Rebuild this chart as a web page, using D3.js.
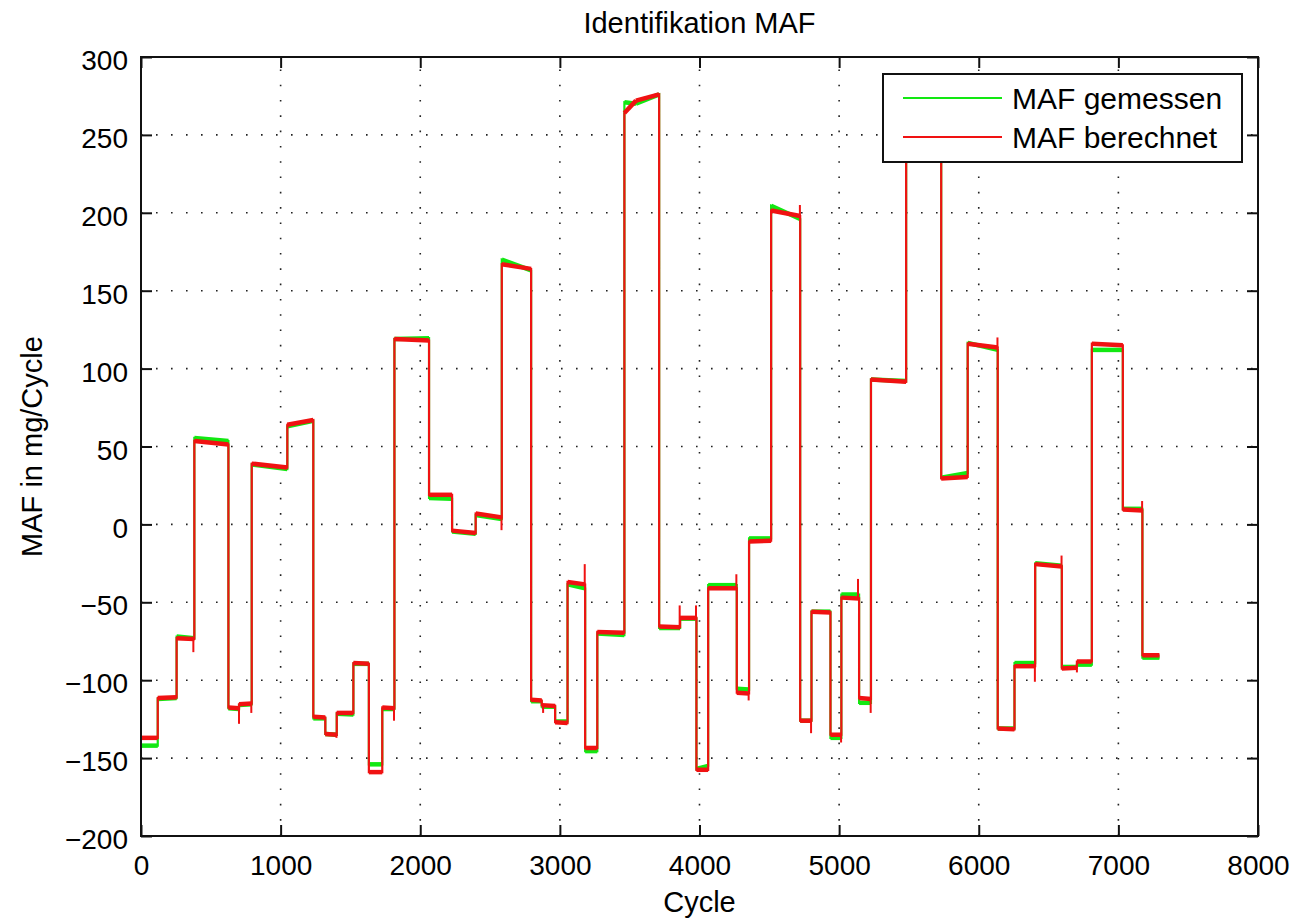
<!DOCTYPE html>
<html><head><meta charset="utf-8">
<script src="https://cdn.jsdelivr.net/npm/d3@7"></script>
<style>
body{margin:0;background:#fff}
svg{display:block}
text{font-family:"Liberation Sans",Arial,Helvetica,sans-serif;fill:#000}
</style>
</head><body>
<svg id="chart" width="1292" height="922"></svg>
<script>
const chartTitle = "Identifikation MAF";
const xLabel = "Cycle";
const yLabel = "MAF in mg/Cycle";
const seriesNames = ["MAF gemessen", "MAF berechnet"];
const seriesColors = ["#12e812", "#f01212"];
const xTicks = [0, 1000, 2000, 3000, 4000, 5000, 6000, 7000, 8000];
const yTicks = [-200, -150, -100, -50, 0, 50, 100, 150, 200, 250, 300];

// step segments (cycle where each plateau starts), last cycle of the record
const segStart = [0, 120, 255, 382, 626, 702, 793, 1048, 1234, 1320, 1402, 1521, 1632, 1728, 1815, 2063, 2228, 2397, 2584, 2794, 2870, 2966, 3055, 3181, 3268, 3462, 3545, 3711, 3861, 3978, 4062, 4267, 4355, 4513, 4721, 4802, 4938, 5016, 5143, 5228, 5480, 5731, 5921, 6136, 6256, 6404, 6595, 6703, 6810, 7032, 7172];
const lastCycle = 7294;
// MAF berechnet: level at start / end of each plateau
const calcStart = [-137, -111.5, -73, 53.5, -117.5, -115.5, 39, 64, -123.5, -134.5, -121, -89, -159, -117.5, 119, 19, -4, 7, 167, -112.5, -116, -127, -37, -143.5, -69, 264, 272, -65.5, -60, -157.5, -41, -108, -11, 201.5, -126, -56, -135, -47, -111.5, 93, 262, 29.5, 116, -131, -91, -25.5, -92.5, -88, 116, 9.5, -84];
const calcEnd   = [-137, -111, -73.5, 51.3, -118, -115, 36.5, 67, -124, -135, -121, -89.5, -159, -118, 118, 19, -5.5, 4.5, 164, -113, -116.5, -127.5, -38.5, -143.5, -69.5, 272, 276, -66, -60, -157.5, -41, -108.5, -10.5, 198, -126, -56.5, -135, -47.5, -112, 91.5, 262, 30.5, 113.5, -131.5, -91, -27, -92, -88, 115, 9, -84];
// MAF gemessen: level at start / end of each plateau
const measStart = [-142, -112, -72, 55.5, -118, -116, 38.5, 63, -124.5, -134.5, -121.5, -89.5, -154, -118.5, 119, 17, -4.5, 6, 170, -113.5, -117, -126.5, -38.5, -145.5, -70, 271, 270, -66.5, -60.5, -157, -39, -105.5, -9, 204.5, -126, -56, -137, -45, -114.5, 93, 262, 30, 116.5, -131, -89, -25, -91.5, -90, 112, 10, -85.5];
const measEnd   = [-142, -111.5, -73, 53.5, -118.5, -115.5, 35.5, 66.5, -124.5, -135, -122, -89.5, -154, -118.5, 119.5, 16.5, -6, 3.5, 163, -113.5, -117, -126.5, -41, -145.5, -71, 270, 276, -66.5, -60.5, -155, -39, -106, -9, 196, -126, -56, -137, -45, -114.5, 92, 262, 33, 112, -131, -89, -26.5, -91.5, -90, 112, 10, -85.5];
// short overshoots of MAF berechnet at transitions: [cycle, value]
const calcSpikes = [[375, -82], [702, -128], [790, -121], [1400, -137], [1812, -126], [2582, -3.7], [2880, -121], [3178, -25.5], [3858, -52], [3975, -52], [4264, -32], [4352, -113], [4719, 205], [4799, -134], [5014, -140], [5135, -35], [5226, -121], [6134, 120], [6402, -101], [6593, -20], [6703, -95], [7170, 15]];

const svg = d3.select("#chart");
const L = 141, R = 1258, T = 57, B = 836;
const x = d3.scaleLinear().domain([0, 8000]).range([L, R]);
const y = d3.scaleLinear().domain([-200, 300]).range([B, T]);

// grid
const grid = svg.append("g");
grid.selectAll(".gx").data(xTicks.slice(1, -1)).enter().append("line")
  .attr("x1", d => x(d)).attr("x2", d => x(d)).attr("y1", B).attr("y2", T)
  .attr("stroke", "#222").attr("stroke-width", 1.6).attr("stroke-dasharray", "1.6,13.7");
grid.selectAll(".gy").data(yTicks.slice(1, -1)).enter().append("line")
  .attr("x1", L).attr("x2", R).attr("y1", d => y(d)).attr("y2", d => y(d))
  .attr("stroke", "#222").attr("stroke-width", 1.6).attr("stroke-dasharray", "1.6,13.4");

// build segments
const segs = segStart.map((s, i) => ({
  s: s, e: i < segStart.length - 1 ? segStart[i + 1] : lastCycle,
  c0: calcStart[i], c1: calcEnd[i], m0: measStart[i], m1: measEnd[i]
}));

const clip = svg.append("defs").append("clipPath").attr("id", "pc")
  .append("rect").attr("x", L).attr("y", T).attr("width", R - L).attr("height", B - T);
const plot = svg.append("g").attr("clip-path", "url(#pc)");

const line = d3.line().x(d => x(d[0])).y(d => y(d[1]));
function drawSeries(k0, k1, color) {
  const pts = [];
  segs.forEach(g => { pts.push([g.s, g[k0]]); pts.push([g.e, g[k1]]); });
  plot.append("path").attr("d", line(pts)).attr("fill", "none")
    .attr("stroke", color).attr("stroke-width", 2.2).attr("stroke-linejoin", "miter");
  plot.selectAll(null).data(segs).enter().append("line")
    .attr("x1", g => x(g.s)).attr("x2", g => x(g.e))
    .attr("y1", g => y(g[k0])).attr("y2", g => y(g[k1]))
    .attr("stroke", color).attr("stroke-width", 4.5);
}
drawSeries("m0", "m1", seriesColors[0]);
drawSeries("c0", "c1", seriesColors[1]);

function calcAt(c) {
  const g = segs.find(g => c >= g.s && c <= g.e);
  return g.c0 + (g.c1 - g.c0) * (c - g.s) / (g.e - g.s);
}
plot.selectAll(null).data(calcSpikes).enter().append("line")
  .attr("x1", d => x(d[0])).attr("x2", d => x(d[0]))
  .attr("y1", d => y(calcAt(d[0]))).attr("y2", d => y(d[1]))
  .attr("stroke", seriesColors[1]).attr("stroke-width", 2);

// axes (ticks inward on all sides)
const tl = 11;
const ax = svg.append("g").attr("transform", `translate(0,${B})`)
  .call(d3.axisBottom(x).tickValues(xTicks).tickSizeInner(-tl).tickSizeOuter(0).tickPadding(19).tickFormat(d3.format("d")));
const ay = svg.append("g").attr("transform", `translate(${L},0)`)
  .call(d3.axisLeft(y).tickValues(yTicks).tickSizeInner(-tl).tickSizeOuter(0).tickPadding(13).tickFormat(d => d < 0 ? "\u2212" + Math.abs(d) : d));
const axT = svg.append("g").attr("transform", `translate(0,${T})`)
  .call(d3.axisTop(x).tickValues(xTicks).tickSizeInner(-tl).tickSizeOuter(0).tickFormat(""));
const ayR = svg.append("g").attr("transform", `translate(${R},0)`)
  .call(d3.axisRight(y).tickValues(yTicks).tickSizeInner(-tl).tickSizeOuter(0).tickFormat(""));
[ax, ay, axT, ayR].forEach(a => {
  a.select(".domain").remove();
  a.selectAll(".tick line").attr("stroke", "#111").attr("stroke-width", 2);
  a.selectAll("text").attr("font-size", 28).attr("fill", "#000")
    .style("font-family", '"Liberation Sans",Arial,Helvetica,sans-serif');
});
ay.selectAll("text").attr("dy", "0.45em");
svg.append("rect").attr("x", L).attr("y", T).attr("width", R - L).attr("height", B - T)
  .attr("fill", "none").attr("stroke", "#111").attr("stroke-width", 2);

// labels
svg.append("text").attr("x", (L + R) / 2).attr("y", 33).attr("text-anchor", "middle")
  .attr("font-size", 29).text(chartTitle);
svg.append("text").attr("x", (L + R) / 2).attr("y", 912).attr("text-anchor", "middle")
  .attr("font-size", 29).text(xLabel);
svg.append("text").attr("transform", `translate(42,${(T + B) / 2}) rotate(-90)`)
  .attr("text-anchor", "middle").attr("font-size", 29).text(yLabel);

// legend
const lg = svg.append("g");
lg.append("rect").attr("x", 883).attr("y", 74).attr("width", 359).attr("height", 88)
  .attr("fill", "#fff").attr("stroke", "#111").attr("stroke-width", 2);
const ly = [98, 137];
seriesNames.forEach((n, i) => {
  lg.append("line").attr("x1", 903).attr("x2", 1002).attr("y1", ly[i]).attr("y2", ly[i])
    .attr("stroke", seriesColors[i]).attr("stroke-width", 2.2);
  lg.append("text").attr("x", 1012).attr("y", ly[i] + 11).attr("font-size", 30).text(n);
});
</script>
</body></html>
